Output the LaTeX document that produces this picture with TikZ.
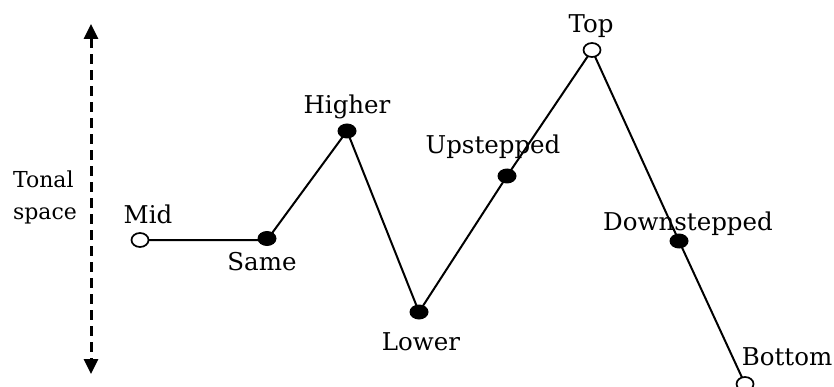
\documentclass[tikz,border=0pt]{standalone}
\usepackage{fontspec}
\setmainfont{DejaVu Serif}
\usetikzlibrary{arrows.meta,shapes.geometric}
\tikzset{
  open/.style={ellipse,draw,line width=1.7pt,fill=white,minimum width=17pt,minimum height=14pt,inner sep=0pt},
  filled/.style={ellipse,fill=black,minimum width=19pt,minimum height=15pt,inner sep=0pt},
  lbl/.style={font=\fontsize{24.5}{27}\selectfont,inner sep=0pt},
  edge/.style={line width=2pt},
}
\begin{document}
\begin{tikzpicture}[x=1pt,y=-1pt]
\useasboundingbox (0,0) rectangle (834,387);
\coordinate (atop) at (91,24);
\coordinate (abot) at (91,374);
\draw[line width=3pt,dash pattern=on 10pt off 6pt,{Triangle[length=15pt,width=14pt]}-{Triangle[length=15pt,width=14pt]}] (atop) -- (abot);
\node[font=\fontsize{22}{32}\selectfont,align=left,inner sep=0pt] (ts) at (45,197) {Tonal\\space};
% points
\coordinate (pmid) at (140,240);
\coordinate (psame) at (267,240);
\coordinate (phigher) at (347,131);
\coordinate (plower) at (419,312);
\coordinate (pup) at (507,176);
\coordinate (ptop) at (592,50);
\coordinate (pdown) at (679,241);
\coordinate (pbot) at (745,384);
\draw[edge] (pmid) -- (psame) -- (phigher) -- (plower) -- (pup) -- (ptop) -- (pdown) -- (pbot);
\node[open] (mid) at (pmid) {};
\node[filled] (same) at ([yshift=1.5pt]psame) {};
\node[filled] (higher) at (phigher) {};
\node[filled] (lower) at (plower) {};
\node[filled] (up) at (pup) {};
\node[open] (top) at (ptop) {};
\node[filled] (down) at (pdown) {};
\node[open] (bot) at (pbot) {};
% labels
\node[lbl] (lmid) at (148,214) {Mid};
\node[lbl] (lsame) at (262,262) {Same};
\node[lbl] (lhigher) at (347,107) {Higher};
\node[lbl] (llower) at (421,342) {Lower};
\node[lbl] (lup) at (493,147) {Upstepped};
\node[lbl] (ltop) at (591,26) {Top};
\node[lbl] (ldown) at (688,224) {Downstepped};
\node[lbl] (lbot) at (787,357) {Bottom};
\end{tikzpicture}
\end{document}
